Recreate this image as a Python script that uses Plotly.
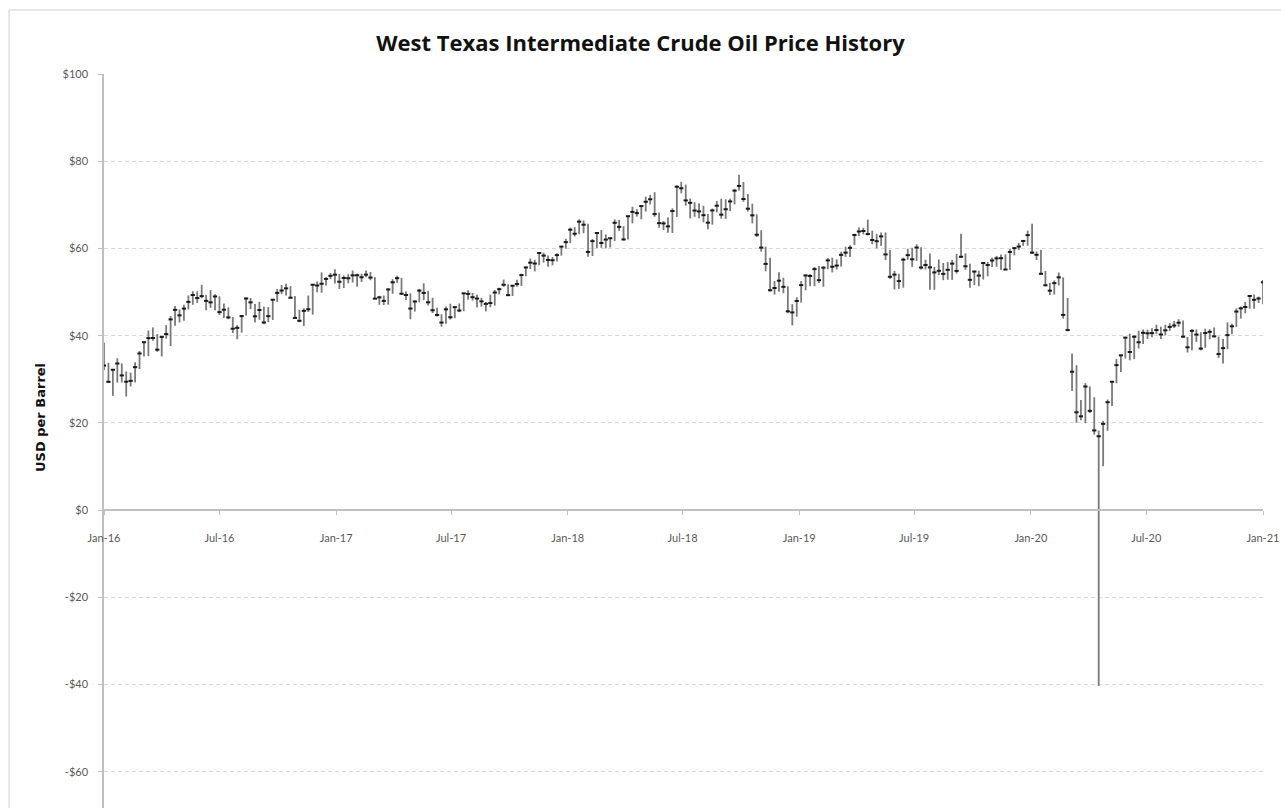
import plotly.graph_objects as go
import pandas as pd

# Weekly WTI crude oil prices (week starting Monday), USD per barrel
first_week = "2016-01-04"

highs = [
    # 2016
    38.39, 33.77, 32.35, 34.82, 33.64, 31.76, 31.53, 33.89, 36.49, 38.67, 41.20, 41.90, 40.37,
    39.87, 42.42, 44.49, 46.78, 46.01, 47.08, 49.24, 50.21, 50.15, 51.67, 49.37, 50.46, 49.51,
    49.03, 47.35, 46.47, 44.29, 42.41, 44.66, 48.75, 48.63, 47.27, 47.75, 46.66, 46.55, 48.30,
    50.74, 51.60, 51.93, 51.35, 49.10, 45.95, 46.26, 49.20, 51.84, 52.42, 54.51, 53.38, 54.37,
    # 2017
    55.24, 54.16, 53.80, 54.09, 54.94, 54.21, 54.17, 54.94, 54.60, 53.43, 49.15, 49.21, 50.85,
    52.94, 53.76, 53.26, 50.13, 49.70, 48.09, 50.73, 52.00, 50.24, 48.69, 46.42, 44.92, 46.69,
    47.32, 46.80, 47.39, 49.81, 50.43, 49.80, 49.39, 48.68, 47.75, 49.42, 50.50, 51.00, 52.86,
    51.77, 51.63, 52.84, 54.20, 55.84, 57.69, 57.39, 59.05, 59.05, 58.36, 58.04, 58.88, 60.51,
    # 2018
    62.21, 64.77, 64.89, 66.66, 66.44, 65.65, 62.16, 63.73, 64.24, 63.25, 62.50, 66.66, 66.55,
    65.11, 67.45, 69.56, 69.01, 69.97, 71.89, 72.30, 72.90, 68.22, 66.26, 67.07, 69.19, 74.46,
    75.27, 74.64, 71.44, 70.60, 70.38, 69.79, 67.91, 69.15, 70.87, 71.40, 71.27, 71.42, 73.66,
    76.90, 75.25, 72.49, 70.28, 67.81, 64.17, 60.39, 57.88, 52.52, 54.55, 53.28, 51.33, 47.23,
    # 2019
    48.81, 52.54, 54.11, 54.13, 55.75, 55.98, 55.89, 57.81, 57.88, 57.50, 59.23, 60.39, 60.72,
    63.38, 64.79, 64.73, 66.60, 64.08, 63.28, 63.65, 63.67, 59.64, 54.84, 54.17, 57.88, 59.93,
    60.15, 60.94, 60.27, 57.40, 58.82, 55.77, 57.47, 56.69, 56.88, 57.37, 58.76, 63.38, 58.87,
    56.50, 54.94, 54.89, 56.92, 56.90, 57.88, 58.27, 58.62, 58.63, 59.85, 60.35, 61.24, 61.88,
    # 2020
    64.09, 65.65, 59.30, 59.73, 54.84, 52.14, 52.68, 54.48, 53.36, 48.66, 35.93, 33.23, 25.24,
    29.13, 28.36, 25.89, 18.26, 20.48, 25.36, 29.61, 34.66, 35.60, 39.73, 40.44, 40.15, 41.13,
    41.41, 41.36, 41.68, 42.51, 42.06, 42.50, 42.85, 43.38, 43.78, 43.47, 39.72, 41.48, 41.44,
    40.80, 41.62, 41.49, 41.88, 39.79, 39.23, 43.06, 42.73, 46.26, 46.68, 47.74, 49.28, 49.42,
    48.96,
    # 2021
    52.75,
]

lows = [
    # 2016
    32.10, 29.13, 26.19, 29.25, 29.26, 26.05, 28.36, 29.24, 32.36, 35.25, 35.30, 38.84, 36.28,
    35.24, 39.32, 37.61, 42.30, 43.03, 43.40, 46.03, 47.08, 47.51, 48.60, 45.83, 46.40, 45.83,
    44.77, 44.05, 43.75, 40.57, 39.19, 40.71, 44.63, 46.09, 43.02, 43.65, 42.65, 43.12, 43.58,
    47.75, 49.56, 49.21, 48.53, 43.95, 43.08, 42.20, 45.45, 44.82, 49.95, 49.85, 51.52, 52.95,
    # 2017
    51.97, 50.71, 50.91, 52.01, 52.18, 51.22, 52.33, 53.38, 52.71, 48.41, 47.09, 47.01, 47.11,
    49.61, 52.11, 49.34, 48.18, 43.76, 45.52, 47.65, 48.18, 46.94, 45.20, 44.42, 42.05, 42.74,
    43.70, 44.01, 45.40, 45.61, 48.25, 48.06, 46.46, 46.67, 45.58, 46.52, 46.90, 49.46, 51.20,
    49.10, 49.10, 51.22, 51.40, 53.63, 55.28, 54.73, 56.15, 56.75, 55.82, 56.14, 57.01, 58.35,
    # 2018
    59.95, 61.23, 62.76, 63.26, 63.49, 58.07, 58.26, 60.11, 60.16, 60.03, 60.23, 61.72, 64.05,
    61.84, 62.06, 65.76, 67.30, 66.70, 68.47, 70.08, 67.28, 64.76, 64.22, 63.59, 63.53, 67.20,
    72.64, 69.80, 66.90, 67.25, 66.92, 66.00, 64.43, 65.46, 68.26, 66.85, 66.78, 68.57, 70.11,
    73.30, 70.71, 68.47, 65.74, 62.62, 59.26, 54.75, 50.15, 49.41, 50.08, 49.71, 45.16, 42.36,
    # 2019
    44.35, 47.59, 50.41, 51.33, 51.33, 52.06, 51.23, 55.25, 54.52, 55.20, 55.82, 58.06, 58.02,
    60.77, 62.85, 63.22, 62.99, 60.96, 60.04, 60.59, 57.33, 53.05, 50.60, 50.72, 51.02, 57.38,
    55.75, 57.14, 55.19, 55.17, 50.52, 50.52, 53.90, 52.73, 52.82, 52.80, 54.23, 57.83, 55.10,
    50.99, 51.60, 51.33, 52.87, 53.62, 55.73, 55.79, 55.07, 55.07, 55.08, 58.42, 59.62, 60.58,
    # 2020
    60.63, 58.71, 57.36, 53.97, 51.34, 49.31, 49.43, 51.51, 43.92, 41.05, 27.34, 20.06, 20.61,
    19.92, 22.26, 17.31, -40.32, 10.07, 18.19, 23.86, 29.10, 31.67, 34.78, 34.36, 34.61, 37.08,
    38.08, 39.24, 39.65, 40.37, 39.25, 40.08, 41.10, 41.73, 42.03, 39.50, 36.13, 36.67, 38.57,
    36.63, 37.20, 39.20, 39.62, 34.92, 33.64, 36.92, 40.34, 42.01, 43.92, 45.12, 46.20, 46.16,
    47.50,
    # 2021
    47.18,
]

closes = [
    # 2016
    33.16, 29.42, 32.19, 33.62, 30.89, 29.44, 29.64, 32.78, 35.92, 38.50, 39.44, 39.46, 36.79,
    39.72, 40.36, 43.73, 45.92, 44.66, 46.21, 47.75, 49.33, 48.62, 49.07, 47.98, 47.64, 48.99,
    45.41, 45.95, 44.19, 41.60, 41.80, 44.49, 48.52, 47.64, 44.44, 45.88, 43.03, 44.48, 48.24,
    49.81, 50.35, 50.85, 48.70, 44.07, 43.41, 45.69, 46.06, 51.68, 51.50, 51.90, 53.02, 53.72,
    # 2017
    53.99, 52.37, 53.22, 53.17, 53.83, 53.86, 53.40, 53.99, 53.33, 48.49, 48.78, 47.97, 50.60,
    52.24, 53.18, 49.62, 49.33, 46.22, 47.84, 50.33, 49.80, 47.66, 45.83, 44.74, 43.01, 46.04,
    44.23, 46.54, 45.77, 49.71, 49.58, 48.82, 48.51, 47.87, 47.29, 47.48, 49.89, 50.66, 51.67,
    49.29, 51.45, 51.84, 53.90, 55.64, 56.74, 56.55, 58.95, 58.36, 57.36, 57.30, 58.47, 60.42,
    # 2018
    61.44, 64.30, 63.37, 66.14, 65.45, 59.20, 61.68, 63.55, 61.25, 62.04, 62.34, 65.88, 64.94,
    62.06, 67.39, 68.38, 68.10, 69.72, 70.70, 71.28, 67.88, 65.81, 65.74, 65.06, 68.58, 74.15,
    73.80, 71.01, 70.46, 68.69, 68.49, 67.63, 65.91, 68.72, 69.80, 67.75, 68.99, 70.78, 73.25,
    74.34, 71.34, 69.12, 67.59, 63.14, 60.19, 56.46, 50.42, 50.93, 52.61, 51.20, 45.59, 45.33,
    # 2019
    47.96, 51.59, 53.80, 53.69, 55.26, 52.72, 55.59, 57.26, 55.80, 56.07, 58.52, 59.04, 60.14,
    63.08, 63.89, 64.00, 63.30, 61.94, 61.66, 62.76, 58.63, 53.50, 54.00, 52.51, 57.43, 58.47,
    57.51, 60.21, 55.63, 56.20, 55.66, 54.50, 54.87, 54.17, 55.10, 56.52, 54.85, 58.09, 55.91,
    52.81, 54.70, 53.78, 56.66, 56.20, 57.24, 57.72, 57.77, 55.17, 59.20, 60.07, 60.44, 61.72,
    # 2020
    63.05, 59.04, 58.54, 54.19, 51.56, 50.32, 52.05, 53.38, 44.76, 41.28, 31.73, 22.43, 21.51,
    28.34, 22.76, 18.27, 16.94, 19.78, 24.74, 29.43, 33.25, 35.49, 39.55, 36.26, 39.75, 38.49,
    40.65, 40.55, 40.59, 41.29, 40.27, 41.22, 42.01, 42.34, 42.97, 39.77, 37.33, 41.11, 40.25,
    37.05, 40.60, 40.88, 39.85, 35.79, 37.14, 40.13, 42.15, 45.53, 46.26, 46.57, 49.10, 48.23,
    48.52,
    # 2021
    52.24,
]

y_tick_values = [-60, -40, -20, 0, 20, 40, 60, 80, 100]
y_tick_labels = ["-$60", "-$40", "-$20", "$0", "$20", "$40", "$60", "$80", "$100"]

title_text = "West Texas Intermediate Crude Oil Price History"
y_title_text = "USD per Barrel"

weeks = pd.date_range(start=first_week, periods=len(closes), freq="7D")

# High-low segments
seg_x, seg_y = [], []
for d, lo, hi in zip(weeks, lows, highs):
    seg_x += [d, d, None]
    seg_y += [lo, hi, None]

Y_MIN, Y_MAX = -68.3, 100
zero_pos = (0 - Y_MIN) / (Y_MAX - Y_MIN)

fig = go.Figure()
fig.add_trace(go.Scatter(
    x=seg_x, y=seg_y, mode="lines",
    line=dict(color="#7a7a7a", width=1.8),
    hoverinfo="skip", showlegend=False,
))
fig.add_trace(go.Scatter(
    x=weeks, y=closes, mode="markers",
    marker=dict(symbol="line-ew", size=3, line=dict(color="#1a1a1a", width=2)),
    showlegend=False, name="Close",
))

axis_gray = "#bfbfbf"
tick_font = dict(family="Lato, Carlito, Calibri, sans-serif", size=11, color="#595959")

fig.update_layout(
    width=1281, height=808, autosize=False,
    paper_bgcolor="white", plot_bgcolor="white",
    margin=dict(l=104, r=18, t=74, b=0),
    title=dict(text=f"<b>{title_text}</b>", x=0.5, xanchor="center",
               y=1 - 43 / 808, yanchor="middle",
               font=dict(family="Open Sans, Lato, sans-serif", size=22, color="#111111")),
    xaxis=dict(
        type="date",
        range=["2016-01-04", "2021-01-04"],
        tick0="2016-01-04", dtick="M6", tickformat="%b-%y",
        anchor="free", position=zero_pos,
        showline=True, linecolor=axis_gray, linewidth=1.5,
        ticks="outside", ticklen=4, tickcolor=axis_gray, tickwidth=1,
        ticklabelstandoff=14,
        showgrid=False, zeroline=False,
        tickfont=tick_font,
    ),
    yaxis=dict(
        range=[Y_MIN, Y_MAX],
        tickvals=y_tick_values, ticktext=y_tick_labels,
        showline=True, linecolor=axis_gray, linewidth=1.5,
        ticks="outside", ticklen=4, tickcolor=axis_gray,
        ticklabelstandoff=8,
        showgrid=True, gridcolor="#d9d9d9", griddash="4px,3px", gridwidth=1,
        zeroline=False,
        tickfont=tick_font,
    ),
    annotations=[dict(
        text=f"<b>{y_title_text}</b>", textangle=-90,
        xref="paper", yref="paper",
        x=(40 - 104) / 1159, y=(808 - 418) / 734,
        xanchor="center", yanchor="middle", showarrow=False,
        font=dict(family="DejaVu Sans, Verdana, sans-serif", size=13, color="#111111"),
    )],
    shapes=[dict(
        type="rect", xref="paper", yref="paper",
        x0=(9 - 104) / 1159, x1=1.2, y0=-0.2, y1=(808 - 10) / 734,
        line=dict(color="#d0d0d0", width=1), fillcolor="rgba(0,0,0,0)", layer="below",
    )],
)

fig.write_html(
    "out.html",
    config={"displayModeBar": False},
    post_script="document.body.style.margin='0';document.body.style.overflow='hidden';",
)
